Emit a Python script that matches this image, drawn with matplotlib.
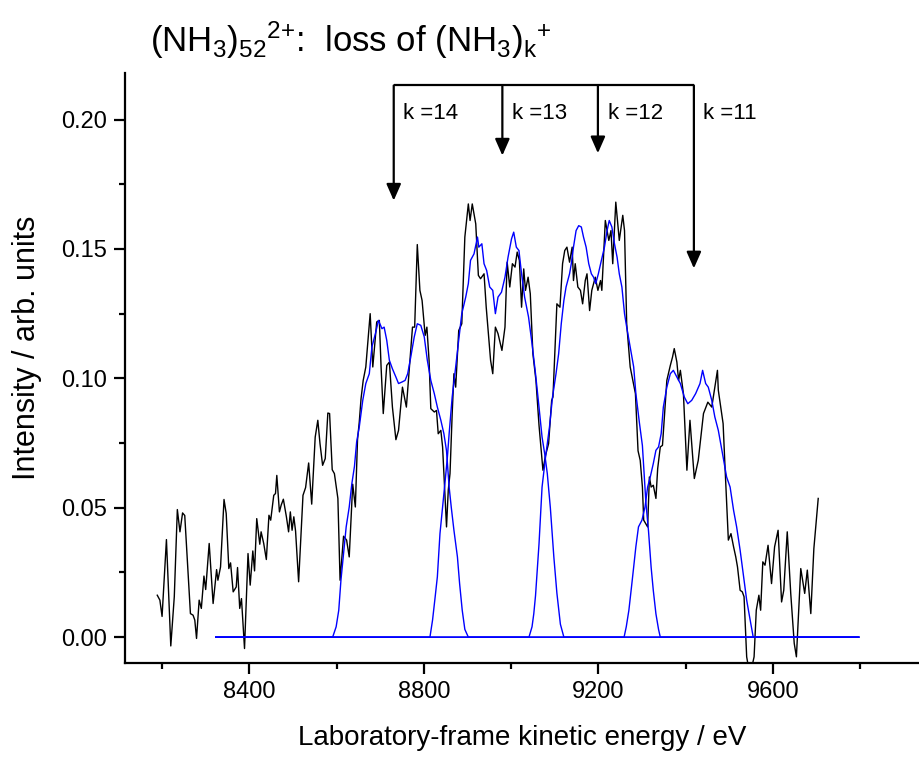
import matplotlib
matplotlib.use("Agg")
import matplotlib.pyplot as plt

plt.rcParams['font.family'] = ['Liberation Sans', 'DejaVu Sans']
plt.rcParams['mathtext.fontset'] = 'custom'
plt.rcParams['mathtext.rm'] = 'Liberation Sans'
plt.rcParams['mathtext.it'] = 'Liberation Sans:italic'

# measured spectrum (black)
exp_x = [8189, 8195, 8200, 8210, 8220, 8228, 8235, 8241, 8247, 8252, 8257, 8265, 8271, 8275,
         8279, 8285, 8290, 8296, 8300, 8308, 8317, 8325, 8328, 8334, 8342, 8347, 8353, 8357,
         8363, 8370, 8373, 8378, 8382, 8389, 8397, 8402, 8408, 8412, 8417, 8424, 8427, 8433,
         8439, 8445, 8449, 8456, 8460, 8463, 8469, 8473, 8478, 8485, 8490, 8494, 8498, 8502,
         8506, 8513, 8523, 8529, 8536, 8543, 8551, 8557, 8562, 8568, 8574, 8580, 8584, 8590,
         8595, 8603, 8608, 8616, 8623, 8629, 8637, 8643, 8648, 8652, 8656, 8661, 8667, 8677,
         8683, 8692, 8698, 8702, 8707, 8715, 8721, 8728, 8736, 8742, 8751, 8757, 8760, 8774,
         8779, 8785, 8791, 8796, 8803, 8807, 8812, 8816, 8824, 8829, 8833, 8839, 8843, 8852,
         8856, 8860, 8865, 8869, 8873, 8880, 8887, 8894, 8902, 8906, 8911, 8919, 8925, 8930,
         8938, 8943, 8953, 8958, 8964, 8970, 8979, 8986, 8991, 8997, 9003, 9009, 9014, 9019,
         9024, 9029, 9033, 9039, 9044, 9050, 9057, 9064, 9073, 9079, 9086, 9093, 9096, 9105,
         9112, 9118, 9123, 9128, 9134, 9140, 9143, 9147, 9153, 9159, 9164, 9170, 9174, 9180,
         9185, 9193, 9199, 9205, 9208, 9216, 9224, 9229, 9233, 9240, 9248, 9256, 9260, 9265,
         9273, 9279, 9285, 9291, 9296, 9301, 9304, 9313, 9317, 9321, 9326, 9332, 9336, 9342,
         9347, 9352, 9357, 9365, 9370, 9374, 9380, 9384, 9388, 9395, 9403, 9410, 9420, 9429,
         9441, 9451, 9460, 9467, 9473, 9475, 9486, 9490, 9498, 9504, 9510, 9515, 9519, 9525,
         9530, 9534, 9540, 9544, 9550, 9557, 9562, 9568, 9572, 9577, 9582, 9589, 9597, 9604,
         9612, 9620, 9625, 9633, 9641, 9649, 9654, 9664, 9673, 9679, 9687, 9694, 9704]
exp_y = [0.0162, 0.0143, 0.008, 0.0377, -0.0034, 0.0156, 0.0493, 0.0407, 0.048, 0.047, 0.0323,
         0.0091, 0.0085, 0.0066, -0.0005, 0.0143, 0.0111, 0.0236, 0.0184, 0.0362, 0.013, 0.0261,
         0.022, 0.0271, 0.0532, 0.0478, 0.0265, 0.0287, 0.0175, 0.0194, 0.0269, 0.0111, 0.0149,
         -0.0044, 0.0323, 0.0201, 0.0333, 0.0256, 0.0458, 0.0359, 0.0407, 0.0362, 0.03, 0.0471,
         0.0452, 0.0548, 0.0555, 0.0625, 0.0484, 0.051, 0.0533, 0.0465, 0.0407, 0.0484, 0.0413,
         0.0465, 0.041, 0.0214, 0.0548, 0.0578, 0.0673, 0.0514, 0.0773, 0.0838, 0.0748, 0.0664,
         0.069, 0.0866, 0.0864, 0.0647, 0.0632, 0.0536, 0.022, 0.039, 0.0375, 0.031, 0.0591,
         0.0503, 0.0763, 0.0831, 0.092, 0.0992, 0.1044, 0.125, 0.1044, 0.1218, 0.1224, 0.1044,
         0.0864, 0.105, 0.1063, 0.0889, 0.0763, 0.0799, 0.0966, 0.0915, 0.0889, 0.1198, 0.1198,
         0.1517, 0.134, 0.1301, 0.1166, 0.1198, 0.107, 0.0883, 0.087, 0.0876, 0.0786, 0.0799,
         0.0735, 0.0426, 0.0568, 0.0632, 0.0864, 0.1018, 0.0966, 0.1185, 0.1211, 0.1546, 0.1674,
         0.161, 0.1674, 0.1597, 0.1398, 0.1385, 0.1404, 0.1275, 0.107, 0.1018, 0.1198, 0.1173,
         0.1108, 0.1198, 0.1449, 0.1353, 0.1443, 0.143, 0.1488, 0.1456, 0.1275, 0.1423, 0.134,
         0.1391, 0.1327, 0.1095, 0.0992, 0.0819, 0.0645, 0.0703, 0.0748, 0.0915, 0.0928, 0.1288,
         0.1275, 0.1443, 0.1494, 0.1507, 0.1449, 0.1507, 0.1378, 0.1443, 0.1353, 0.134, 0.1288,
         0.1378, 0.1404, 0.1262, 0.134, 0.1391, 0.134, 0.1378, 0.134, 0.161, 0.1533, 0.1571,
         0.1443, 0.1681, 0.1533, 0.163, 0.1571, 0.1211, 0.1044, 0.0992, 0.0941, 0.072, 0.0683,
         0.058, 0.0452, 0.0426, 0.0619, 0.058, 0.0587, 0.0536, 0.0651, 0.0735, 0.0741, 0.0864,
         0.0992, 0.105, 0.1082, 0.1115, 0.1063, 0.0992, 0.1031, 0.0941, 0.0645, 0.0838, 0.0613,
         0.0683, 0.0864, 0.0908, 0.0889, 0.0966, 0.1031, 0.0954, 0.0825, 0.0671, 0.0375, 0.04,
         0.0349, 0.031, 0.0271, 0.0181, 0.0175, 0.0156, -0.0076, -0.0115, -0.013, -0.0076,
         0.0104, 0.0162, 0.0104, 0.0291, 0.0278, 0.0355, 0.0207, 0.0349, 0.0413, 0.0136, 0.0181,
         0.0407, 0.0169, -0.0024, -0.0076, 0.0265, 0.0169, 0.0259, 0.0091, 0.0342, 0.0536]

# simulated loss channels (blue)
k14_x = [8323, 8591, 8599, 8605, 8610, 8616, 8622, 8629, 8635, 8641, 8646, 8652, 8660, 8667,
         8675, 8681, 8689, 8696, 8704, 8709, 8715, 8721, 8728, 8736, 8742, 8750, 8757, 8763,
         8770, 8778, 8785, 8793, 8801, 8808, 8816, 8824, 8831, 8839, 8846, 8852, 8858, 8863,
         8869, 8877, 8882, 8888, 8894, 8902, 9797]
k14_y = [0, 0, 0.004, 0.0104, 0.022, 0.0323, 0.0426, 0.0503, 0.0593, 0.066, 0.0754, 0.0812,
         0.0915, 0.098, 0.1018, 0.1121, 0.1173, 0.1224, 0.1192, 0.1198, 0.1147, 0.107, 0.1037,
         0.1005, 0.098, 0.0986, 0.0992, 0.1018, 0.1082, 0.116, 0.1211, 0.1205, 0.116, 0.107,
         0.0992, 0.0941, 0.0889, 0.0838, 0.0786, 0.072, 0.058, 0.05, 0.0413, 0.031, 0.0207,
         0.0104, 0.003, 0, 0]

k13_x = [8323, 8814, 8820, 8826, 8831, 8837, 8843, 8849, 8854, 8858, 8865, 8873, 8879, 8887,
         8896, 8902, 8907, 8915, 8923, 8926, 8933, 8938, 8944, 8951, 8958, 8964, 8970, 8978,
         8986, 8993, 9001, 9006, 9012, 9018, 9024, 9031, 9040, 9048, 9056, 9064, 9071, 9077,
         9083, 9090, 9098, 9105, 9113, 9121, 9797]
k13_y = [0, 0, 0.0066, 0.0156, 0.0233, 0.04, 0.0503, 0.0606, 0.0696, 0.0786, 0.0928, 0.1044,
         0.1134, 0.125, 0.1314, 0.1366, 0.1456, 0.1481, 0.1546, 0.1507, 0.152, 0.1443, 0.1417,
         0.1353, 0.134, 0.125, 0.1314, 0.1333, 0.1391, 0.1468, 0.1539, 0.1565, 0.1507, 0.1494,
         0.1404, 0.1314, 0.1237, 0.1134, 0.1018, 0.0889, 0.0773, 0.0709, 0.0632, 0.05, 0.031,
         0.017, 0.005, 0, 0]

k12_x = [8323, 9041, 9048, 9052, 9056, 9060, 9064, 9071, 9079, 9088, 9095, 9103, 9109, 9115,
         9121, 9126, 9134, 9138, 9143, 9149, 9155, 9161, 9166, 9172, 9178, 9184, 9189, 9194,
         9200, 9207, 9214, 9220, 9225, 9231, 9237, 9243, 9248, 9254, 9260, 9265, 9273, 9281,
         9286, 9294, 9301, 9309, 9315, 9321, 9326, 9332, 9338, 9342, 9797]
k12_y = [0, 0, 0.004, 0.009, 0.016, 0.026, 0.036, 0.058, 0.0696, 0.0812, 0.0928, 0.1018,
         0.1095, 0.1211, 0.1301, 0.1353, 0.1404, 0.1443, 0.1507, 0.1571, 0.159, 0.1585, 0.1546,
         0.1507, 0.1443, 0.1404, 0.1391, 0.1366, 0.1404, 0.1456, 0.1507, 0.1571, 0.161, 0.1585,
         0.152, 0.1468, 0.1404, 0.1353, 0.125, 0.1198, 0.1121, 0.1044, 0.0941, 0.083, 0.074,
         0.052, 0.041, 0.027, 0.018, 0.009, 0.003, 0, 0]

k11_x = [8323, 9259, 9264, 9270, 9276, 9281, 9286, 9292, 9300, 9307, 9313, 9319, 9326, 9332,
         9338, 9344, 9349, 9357, 9365, 9372, 9380, 9388, 9397, 9405, 9414, 9423, 9433, 9439,
         9446, 9452, 9460, 9467, 9475, 9486, 9494, 9502, 9510, 9517, 9525, 9532, 9540, 9548,
         9555, 9797]
k11_y = [0, 0, 0.004, 0.0104, 0.0194, 0.0271, 0.0349, 0.0426, 0.0452, 0.0503, 0.058, 0.0619,
         0.0671, 0.0722, 0.0735, 0.0786, 0.0889, 0.0966, 0.1018, 0.1031, 0.1005, 0.098, 0.0928,
         0.0902, 0.0915, 0.0941, 0.098, 0.1031, 0.098, 0.0966, 0.0915, 0.0851, 0.0799, 0.0696,
         0.0619, 0.058, 0.049, 0.0426, 0.0336, 0.0246, 0.0143, 0.0066, 0, 0]

# arrow markers: position of each k and where its arrow stops
k_labels = ['k =14', 'k =13', 'k =12', 'k =11']
k_pos = [8731, 8980, 9199, 9419]
k_tip = [0.1687, 0.1861, 0.187, 0.1425]
bar_y = 0.2132

fig = plt.figure(figsize=(9.19, 7.58), dpi=100)
ax = fig.add_axes([0.136, 0.1253, 0.864, 0.7784])

ax.plot(exp_x, exp_y, color='black', lw=1.0)
for xs, ys in [(k14_x, k14_y), (k13_x, k13_y), (k12_x, k12_y), (k11_x, k11_y)]:
    ax.plot(xs, ys, color='#0000ff', lw=1.0)

ax.set_xlim(8115, 9935)
ax.set_ylim(-0.010, 0.218)
ax.set_xticks([8400, 8800, 9200, 9600])
ax.set_xticks([8200, 8600, 9000, 9400, 9800], minor=True)
ax.set_yticks([0.00, 0.05, 0.10, 0.15, 0.20])
ax.set_yticks([0.025, 0.075, 0.125, 0.175], minor=True)
ax.set_yticklabels(['0.00', '0.05', '0.10', '0.15', '0.20'])

for s in ['top', 'right']:
    ax.spines[s].set_visible(False)
for s in ['left', 'bottom']:
    ax.spines[s].set_linewidth(1.6)
ax.tick_params(which='major', length=8, width=1.6, labelsize=17, pad=5)
ax.tick_params(which='minor', length=4.5, width=1.6)

ax.set_xlabel('Laboratory-frame kinetic energy / eV', fontsize=20, labelpad=16)
ax.set_ylabel('Intensity / arb. units', fontsize=22)
ax.yaxis.set_label_coords(-0.104, 0.535)

# bracket with arrows
ax.plot([k_pos[0], k_pos[-1]], [bar_y, bar_y], color='black', lw=1.6, solid_capstyle='butt')
for lab, xp, tip in zip(k_labels, k_pos, k_tip):
    ax.annotate('', xy=(xp, tip), xytext=(xp, bar_y),
                arrowprops=dict(arrowstyle='-|>,head_length=0.5,head_width=0.22',
                                color='black', lw=1.6, mutation_scale=20,
                                shrinkA=0, shrinkB=0))
    ax.text(xp + 22, 0.2025, lab, fontsize=16, ha='left', va='center')

fig.text(150 / 919, 1 - 52 / 758,
         r'(NH$_3$)$_{52}$$^{2{+}}$:  loss of (NH$_3$)$_\mathrm{k}$$^{{+}}$',
         fontsize=25, ha='left', va='baseline')

fig.savefig('out.png', dpi=100)
